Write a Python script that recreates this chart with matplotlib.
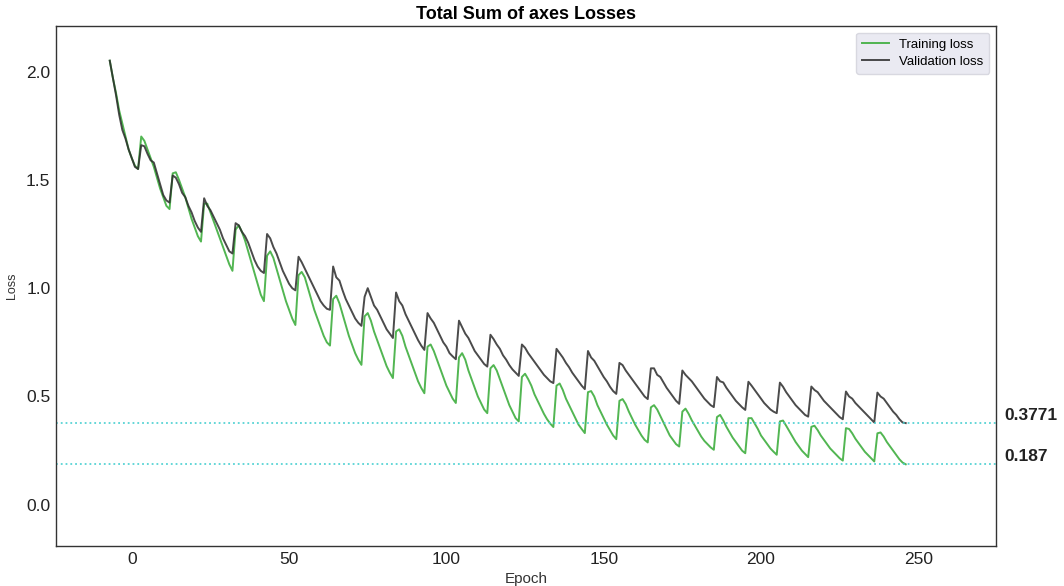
import numpy as np
import matplotlib
matplotlib.use("Agg")
import matplotlib.pyplot as plt

plt.rcParams["font.family"] = ["Liberation Sans", "DejaVu Sans"]

# loss values read per epoch, one row per restart cycle
train_loss = [
    2.05, 1.97, 1.90, 1.82, 1.76, 1.70, 1.64, 1.60, 1.565, 1.55,
    1.70, 1.68, 1.64, 1.60, 1.56, 1.51, 1.46, 1.42, 1.38, 1.365,
    1.53, 1.535, 1.50, 1.46, 1.42, 1.37, 1.32, 1.28, 1.24, 1.215,
    1.39, 1.39, 1.35, 1.31, 1.27, 1.23, 1.19, 1.15, 1.11, 1.08,
    1.27, 1.29, 1.26, 1.22, 1.17, 1.12, 1.07, 1.02, 0.97, 0.94,
    1.15, 1.17, 1.14, 1.09, 1.04, 0.99, 0.94, 0.90, 0.86, 0.83,
    1.06, 1.075, 1.05, 1.00, 0.95, 0.90, 0.86, 0.82, 0.78, 0.75, 0.735,
    0.95, 0.965, 0.93, 0.88, 0.83, 0.78, 0.74, 0.70, 0.67, 0.646,
    0.87, 0.885, 0.85, 0.80, 0.76, 0.72, 0.68, 0.64, 0.61, 0.585,
    0.80, 0.81, 0.78, 0.73, 0.69, 0.65, 0.61, 0.57, 0.54, 0.515,
    0.73, 0.74, 0.71, 0.67, 0.63, 0.59, 0.55, 0.52, 0.49, 0.47,
    0.68, 0.70, 0.67, 0.62, 0.58, 0.54, 0.50, 0.47, 0.44, 0.423,
    0.63, 0.645, 0.62, 0.58, 0.54, 0.50, 0.46, 0.43, 0.40, 0.385,
    0.59, 0.605, 0.58, 0.55, 0.51, 0.48, 0.45, 0.42, 0.395, 0.375, 0.359,
    0.55, 0.56, 0.53, 0.49, 0.46, 0.43, 0.40, 0.37, 0.35, 0.331,
    0.52, 0.525, 0.50, 0.46, 0.43, 0.40, 0.37, 0.345, 0.32, 0.303,
    0.48, 0.488, 0.465, 0.43, 0.40, 0.37, 0.345, 0.32, 0.30, 0.288,
    0.45, 0.46, 0.44, 0.41, 0.38, 0.35, 0.32, 0.30, 0.28, 0.269,
    0.43, 0.444, 0.42, 0.39, 0.365, 0.34, 0.315, 0.295, 0.28, 0.265, 0.254,
    0.405, 0.415, 0.39, 0.36, 0.335, 0.31, 0.29, 0.27, 0.25, 0.238,
    0.40, 0.40, 0.375, 0.35, 0.32, 0.30, 0.28, 0.26, 0.245, 0.231,
    0.385, 0.389, 0.365, 0.34, 0.315, 0.29, 0.27, 0.25, 0.235, 0.22,
    0.36, 0.365, 0.345, 0.32, 0.30, 0.28, 0.26, 0.245, 0.23, 0.215, 0.204,
    0.354, 0.35, 0.33, 0.305, 0.285, 0.265, 0.245, 0.23, 0.215, 0.20,
    0.33, 0.334, 0.315, 0.29, 0.27, 0.25, 0.23, 0.21, 0.195, 0.187,
]

val_loss = [
    2.05, 1.97, 1.89, 1.80, 1.73, 1.69, 1.64, 1.60, 1.56, 1.55,
    1.66, 1.655, 1.62, 1.59, 1.58, 1.53, 1.48, 1.43, 1.405, 1.395,
    1.52, 1.51, 1.48, 1.44, 1.42, 1.38, 1.35, 1.31, 1.28, 1.26,
    1.415, 1.38, 1.36, 1.33, 1.30, 1.27, 1.23, 1.20, 1.17, 1.16,
    1.30, 1.29, 1.26, 1.24, 1.21, 1.17, 1.13, 1.10, 1.08, 1.07,
    1.25, 1.23, 1.19, 1.16, 1.12, 1.08, 1.05, 1.02, 1.00, 0.99,
    1.145, 1.12, 1.09, 1.06, 1.03, 1.00, 0.97, 0.94, 0.92, 0.905, 0.90,
    1.10, 1.05, 1.035, 0.99, 0.95, 0.92, 0.89, 0.86, 0.84, 0.826,
    0.96, 1.00, 0.96, 0.92, 0.90, 0.87, 0.84, 0.81, 0.79, 0.77,
    0.98, 0.94, 0.92, 0.88, 0.85, 0.82, 0.79, 0.76, 0.735, 0.715,
    0.885, 0.86, 0.84, 0.81, 0.78, 0.75, 0.73, 0.70, 0.685, 0.672,
    0.85, 0.82, 0.79, 0.77, 0.74, 0.71, 0.69, 0.67, 0.65, 0.638,
    0.785, 0.765, 0.74, 0.72, 0.69, 0.67, 0.645, 0.625, 0.61, 0.595,
    0.74, 0.725, 0.70, 0.68, 0.66, 0.64, 0.62, 0.60, 0.585, 0.57, 0.562,
    0.72, 0.70, 0.68, 0.655, 0.635, 0.61, 0.59, 0.57, 0.55, 0.534,
    0.71, 0.68, 0.665, 0.64, 0.615, 0.59, 0.57, 0.545, 0.525, 0.512,
    0.655, 0.645, 0.62, 0.60, 0.58, 0.56, 0.54, 0.52, 0.50, 0.488,
    0.63, 0.63, 0.60, 0.59, 0.565, 0.54, 0.52, 0.50, 0.48, 0.466,
    0.62, 0.60, 0.585, 0.57, 0.55, 0.53, 0.51, 0.49, 0.475, 0.46, 0.451,
    0.59, 0.57, 0.565, 0.54, 0.52, 0.50, 0.48, 0.465, 0.45, 0.438,
    0.568, 0.55, 0.53, 0.51, 0.49, 0.47, 0.455, 0.44, 0.43, 0.423,
    0.564, 0.545, 0.52, 0.50, 0.48, 0.46, 0.445, 0.43, 0.415, 0.407,
    0.546, 0.53, 0.52, 0.50, 0.48, 0.465, 0.45, 0.435, 0.42, 0.405, 0.395,
    0.523, 0.50, 0.49, 0.47, 0.455, 0.44, 0.425, 0.41, 0.395, 0.38,
    0.518, 0.50, 0.49, 0.47, 0.45, 0.43, 0.415, 0.395, 0.38, 0.3771,
]

first_epoch = -7
epochs = np.arange(first_epoch, first_epoch + len(train_loss))

fig = plt.figure(figsize=(10.64, 5.86), dpi=100)
ax = fig.add_axes([0.0526, 0.0683, 0.8835, 0.8873])

ax.plot(epochs, train_loss, color="#3fae3f", lw=1.4, alpha=0.9, label="Training loss")
ax.plot(epochs, val_loss, color="#2b2b2b", lw=1.4, alpha=0.85, label="Validation loss")

for v in [val_loss[-1], train_loss[-1]]:
    ax.axhline(v, color="#45cfd0", ls=":", lw=1.3, alpha=0.9)
    ax.text(277.3, v, f"{round(v, 4):g}", fontsize=12.5, fontweight="bold",
            color="#222222", ha="left", va="bottom")

ax.set_xlim(-24.1, 274.7)
ax.set_ylim(-0.19, 2.21)
ax.set_xticks([0, 50, 100, 150, 200, 250])
ax.set_yticks([0.0, 0.5, 1.0, 1.5, 2.0])
ax.tick_params(axis="both", length=0, labelsize=12.5, colors="#222222", pad=4)
for s in ax.spines.values():
    s.set_color("#333333")
    s.set_linewidth(1.0)

ax.set_title("Total Sum of axes Losses", fontsize=13, fontweight="bold", pad=5)
ax.set_xlabel("Epoch", fontsize=11, color="#333333", labelpad=4)
ax.set_ylabel("Loss", fontsize=9, color="#333333", labelpad=6)

leg = ax.legend(loc="upper right", fontsize=9.5, facecolor="#eaeaf2", edgecolor="#d8d8e0",
                framealpha=1.0, borderpad=0.45, handlelength=2.0, labelspacing=0.35)

fig.savefig("out.png", dpi=100)
